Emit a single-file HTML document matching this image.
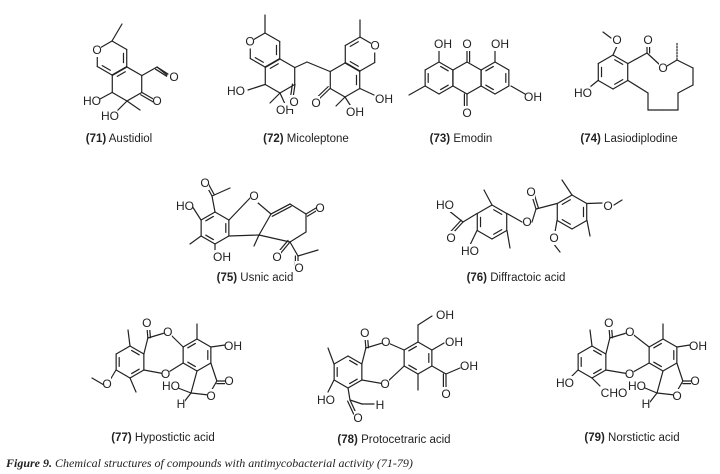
<!DOCTYPE html>
<html><head><meta charset="utf-8"><style>
html,body{margin:0;padding:0;background:#fff;}
svg{display:block}
text{font-family:"Liberation Sans",sans-serif;font-size:12px;fill:#222}
.lb{font-size:11.5px;text-anchor:middle}
.at{font-size:12px;text-anchor:middle;dominant-baseline:central}
</style></head><body>
<svg id="s" width="720" height="474" viewBox="0 0 720 474" xmlns="http://www.w3.org/2000/svg">
<g id="g" stroke="#222" stroke-width="1.2" fill="none" stroke-linecap="round"></g>
<g id="t">
<text class="lb" x="119" y="142"><tspan font-weight="bold">(71)</tspan> Austidiol</text>
<text class="lb" x="306" y="142"><tspan font-weight="bold">(72)</tspan> Micoleptone</text>
<text class="lb" x="461" y="142"><tspan font-weight="bold">(73)</tspan> Emodin</text>
<text class="lb" x="629" y="142"><tspan font-weight="bold">(74)</tspan> Lasiodiplodine</text>
<text class="lb" x="255" y="281"><tspan font-weight="bold">(75)</tspan> Usnic acid</text>
<text class="lb" x="516" y="281"><tspan font-weight="bold">(76)</tspan> Diffractoic acid</text>
<text class="lb" x="163" y="441"><tspan font-weight="bold">(77)</tspan> Hypostictic acid</text>
<text class="lb" x="394" y="443"><tspan font-weight="bold">(78)</tspan> Protocetraric acid</text>
<text class="lb" x="632" y="441"><tspan font-weight="bold">(79)</tspan> Norstictic acid</text>
<text x="6" y="467" style="font-family:'Liberation Serif',serif;font-size:12px;font-style:italic"><tspan font-weight="bold">Figure 9.</tspan> Chemical structures of compounds with antimycobacterial activity (71-79)</text>
</g>
</svg>
<script>
var g=document.getElementById('g'),T=document.getElementById('t'),NS="http://www.w3.org/2000/svg";
function L(a,b,c,d,dash){var e=document.createElementNS(NS,'line');e.setAttribute('x1',a);e.setAttribute('y1',b);e.setAttribute('x2',c);e.setAttribute('y2',d);if(dash)e.setAttribute('stroke-dasharray','1.5 1.5');g.appendChild(e);}
function P(pts){for(var i=0;i+1<pts.length;i++)L(pts[i][0],pts[i][1],pts[i+1][0],pts[i+1][1]);}
function V(c,i){var a=(-90+60*i)*Math.PI/180;return [c[0]+c[2]*Math.cos(a),c[1]+c[2]*Math.sin(a)];}
function H(c,dbl){for(var i=0;i<6;i++){var p=V(c,i),q=V(c,(i+1)%6);L(p[0],p[1],q[0],q[1]);}
 (dbl||[]).forEach(function(i){var p=V(c,i),q=V(c,(i+1)%6),k=0.78;
 var p2=[c[0]+(p[0]-c[0])*k,c[1]+(p[1]-c[1])*k],q2=[c[0]+(q[0]-c[0])*k,c[1]+(q[1]-c[1])*k];
 var m=0.15;L(p2[0]+(q2[0]-p2[0])*m,p2[1]+(q2[1]-p2[1])*m,q2[0]-(q2[0]-p2[0])*m,q2[1]-(q2[1]-p2[1])*m);});}
function D(a,b,c,d){L(a,b,c,d);var dx=c-a,dy=d-b,l=Math.hypot(dx,dy),nx=-dy/l*2.6,ny=dx/l*2.6;L(a+nx,b+ny,c+nx,d+ny);}
function A(s,x,y){var e=document.createElementNS(NS,'rect');var w=s.length*7+1;e.setAttribute('x',x-w/2);e.setAttribute('y',y-7);e.setAttribute('width',w);e.setAttribute('height',14);e.setAttribute('fill','#fff');T.appendChild(e);
 var t=document.createElementNS(NS,'text');t.setAttribute('class','at');t.setAttribute('x',x);t.setAttribute('y',y);t.textContent=s;T.appendChild(t);}
var atoms=[];function At(s,x,y){atoms.push([s,x,y]);}

/* 71 Austidiol */
var p1=[112,58,17],r1=[127,84,17];H(p1,[1,3]);H(r1,[5]);
L(112,41,122,24);P([[142,75.5],[157,67],[167,75]]);D(157,67,168,74);
D(142,92.5,155,100);L(112,92.5,100,99);L(127,101,117,111);L(127,101,140,110);
At("O",97,50);At("O",174,77);At("O",157,101);At("HO",92,101);At("HO",110,116);

/* 72 Micoleptone */
var p2=[265,50,17],q2=[280,76,17],p3=[360,54,17],q3=[345,80,17];
H(p2,[1,3]);H(q2,[5]);H(p3,[5,3]);H(q3,[1]);
L(265,33,265,15);L(360,37,360,20);
P([[295,67.5],[307,62],[330,71.5]]);
D(295,84.5,293,98);D(330,88.5,318,100);
L(265,84.5,248,90);L(280,93,270,103);L(280,93,285,104);L(345,97,336,106);L(345,97,352,108);L(360,88.5,374,95);
At("O",250,41.5);At("O",375,45.5);At("HO",236,91);At("OH",285,110);At("O",294,102);At("O",316,103);At("OH",384,99);At("OH",355,112);

/* 73 Emodin */
var e1=[439,78,16],e2=[467,78,16],e3=[495,78,16];
H(e1,[0,2,4]);H(e3,[1,3,5]);
P([[453,70],[467,62],[481,70]]);P([[453,86],[467,94],[481,86]]);
L(453,70,453,86);L(481,70,481,86);
D(467,62,467,50);D(467,94,467,107);
L(439,62,439,50);L(495,62,495,50);L(511,86,525,94);L(425,86,409,95);
At("OH",443,44);At("O",467,44);At("OH",500,44);At("O",467,113);At("OH",533,97);

/* 74 Lasiodiplodine */
var b4=[613,72,17];H(b4,[0,2,4]);
L(613,55,617,46);L(611,38,603,32);
P([[628,63.5],[647,53]]);D(647,53,647,44);
P([[647,53],[660,65]]);P([[667,66],[677,60],[693,68],[693,85],[678,93],[678,110],[662,110],[648,110],[648,93],[628,80.5]]);
L(677,60,677,42,true);
L(598,80.5,590,87);
At("O",617,40);At("O",648,40);At("O",663,68);At("HO",583,93);

/* 75 Usnic acid */
var b5=[215,228,16];H(b5,[1,3,5]);
P([[229,220],[251,197],[271,214],[259,235],[229,236]]);
P([[271,214],[290,204],[306,214],[306,232],[290,242],[259,235]]);
D(271,214,290,204);D(306,214,316,208);D(290,242,280,254);
L(259,235,254,246);
L(215,212,212,196);D(212,196,206,185);L(212,196,230,188);
L(201,220,192,206);L(201,236,190,244);L(215,244,215,252);
L(290,242,298,256);D(298,256,298,265);L(298,256,318,250);
At("O",254,196);At("O",320,208);At("O",205,183);At("HO",185,206);At("OH",222,257);At("O",277,257);At("O",299,268);

/* 76 Diffractoic acid */
var b6=[492,222,17],b7=[572,212,17];H(b6,[0,2,4]);H(b7,[1,3,5]);
L(492,205,484,190);L(477,213.5,463,222);L(463,222,448,210);D(463,222,452,234);
L(477,230.5,470,245);L(507,230.5,510,248);L(507,213.5,522,222);
L(532,222,536,209);D(536,209,532,196);L(536,209,557,203.5);
L(572,195,562,180);L(587,220.5,590,236);L(587,203.5,602,203);L(614,205,622,200);
L(557,220.5,555,232);L(553,243,560,252);
At("HO",445,205);At("O",451,238);At("HO",470,251);At("O",527,222);At("O",531,192);At("O",608,206);At("O",554,238);

/* depsidones */
function dep(Lc,Rc){H(Lc,[0,2,4]);H(Rc,[1,3,5]);
 var l1=V(Lc,1),l2=V(Lc,2),r5=V(Rc,5),r4=V(Rc,4);
 var cx=l1[0]+4,cy=l1[1]-16,ox=l1[0]+24,oy=l1[1]-22,ex=(l2[0]+r4[0])/2+2,ey=Math.max(l2[1],r4[1])+4;
 P([[l1[0],l1[1]],[cx,cy],[ox,oy],[r5[0],r5[1]]]);
 D(cx,cy,cx-1,cy-12);
 P([[l2[0],l2[1]],[ex,ey],[r4[0],r4[1]]]);
 At("O",cx-1,cy-15);At("O",ox,oy);At("O",ex,ey);}
function lactone(R){var r2=V(R,2),r3=V(R,3);
 P([[r2[0],r2[1]],[r2[0]+6,r2[1]+18],[r2[0]-2,r2[1]+32],[r3[0]-6,r3[1]+22],[r3[0],r3[1]]]);
 D(r2[0]+6,r2[1]+18,r2[0]+18,r2[1]+18);}
/* 77 */
var L7=[130,362,16],R7=[197,355,16];dep(L7,R7);lactone(R7);
L(130,346,128,330);L(130,378,136,392);L(116,370,110,380);L(104,385,92,378);
L(197,339,197,324);L(211,347,225,345);L(191,393,178,388);L(191,393,184,402);
At("O",107,384);At("OH",233,346);At("O",229,381);At("O",211,396);At("HO",171,386);At("H",181,404);
/* 78 */
var L8=[348,372,16],R8=[418,358,16];dep(L8,R8);
L(334,364,328,348);L(334,380,328,392);L(348,388,350,400);P([[350,400],[362,404],[374,404]]);D(350,400,356,413);
L(418,342,418,325);L(418,325,432,316);
L(432,350,444,343);
L(432,366,446,374);D(446,374,446,388);L(446,374,460,368);
L(418,374,418,390);
At("HO",326,400);At("H",380,405);At("O",358,418);At("OH",445,315);At("OH",454,342);At("OH",469,366);At("O",446,394);
/* 79 */
var L9=[592,362,16],R9=[663,355,16];dep(L9,R9);lactone(R9);
L(592,346,590,330);L(578,370,568,380);L(592,378,600,386);
L(663,339,663,324);L(677,347,690,345);L(657,393,645,388);L(657,393,650,402);
At("HO",565,383);At("CHO",614,393);At("OH",698,346);At("O",695,381);At("O",677,396);At("HO",637,386);At("H",646,404);

atoms.forEach(function(a){A(a[0],a[1],a[2]);});
</script>
</body></html>
